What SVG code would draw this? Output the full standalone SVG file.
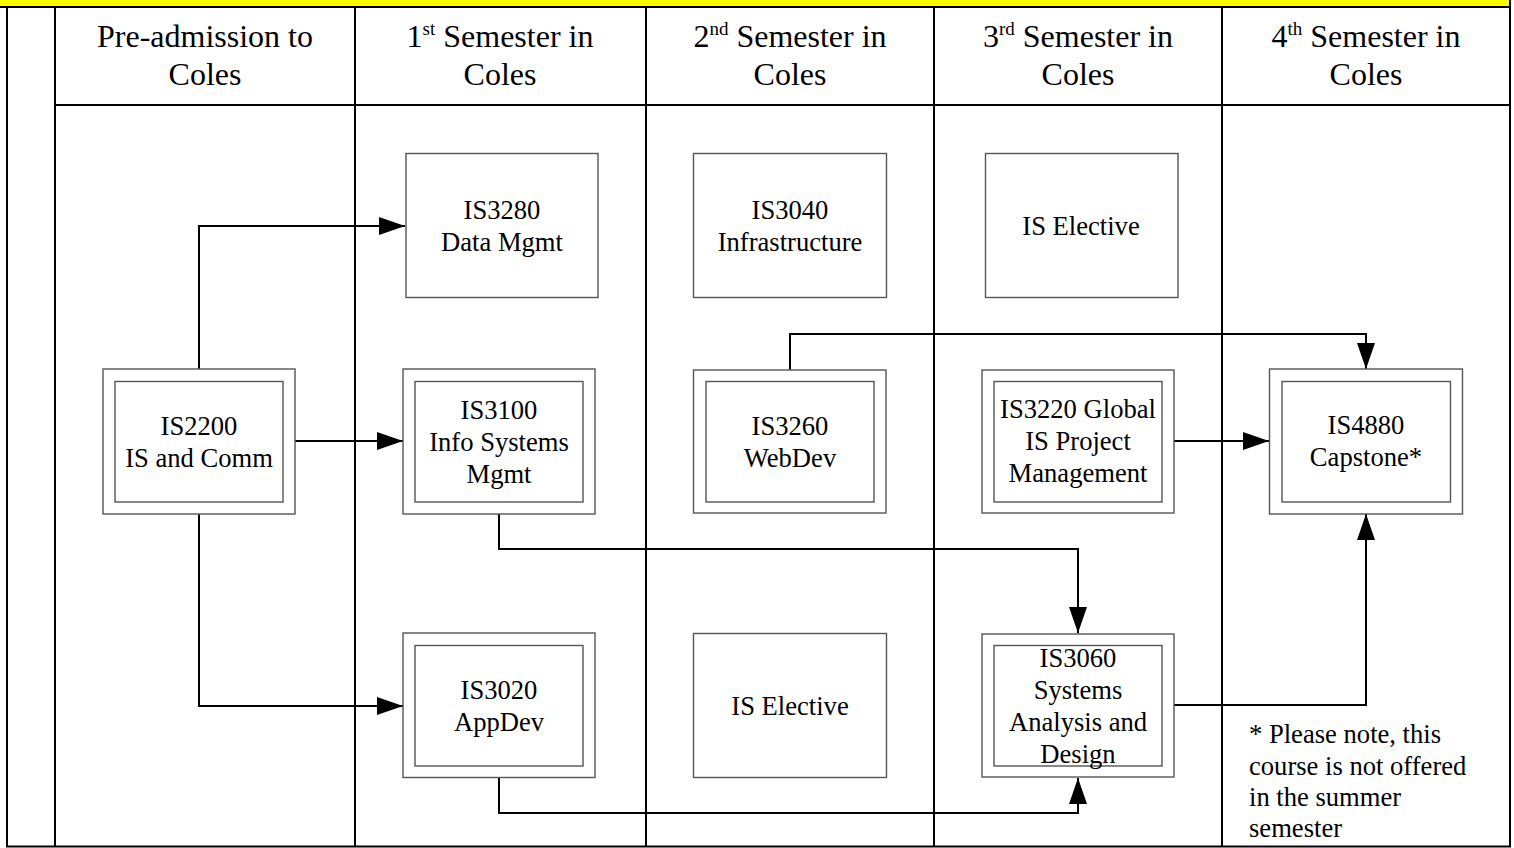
<svg xmlns="http://www.w3.org/2000/svg" width="1514" height="848" viewBox="0 0 1514 848">
<defs>
<marker id="ah" markerWidth="26" markerHeight="18" refX="26" refY="9" orient="auto" markerUnits="userSpaceOnUse">
<path d="M0,0 L26,9 L0,18 Z" fill="#000"/>
</marker>
</defs>
<style>
.frame{stroke:#000;stroke-width:2;fill:none}
.box{fill:#fff;stroke:#555;stroke-width:1.4}
.hdr{font-family:"Liberation Serif","Times New Roman",serif;font-size:32px;fill:#000;text-anchor:middle}
.t{font-family:"Liberation Serif","Times New Roman",serif;font-size:26.6px;fill:#000;text-anchor:middle}
.note{font-family:"Liberation Serif","Times New Roman",serif;font-size:26.6px;fill:#000}
.con{stroke:#000;stroke-width:2;fill:none}
</style>
<rect x="0" y="0" width="1514" height="848" fill="#fff"/>
<g id="frame">
<rect x="0" y="-2" width="1511" height="9" fill="#ffff00"/>
<line class="frame" x1="0" y1="7" x2="1511" y2="7"/>
<line class="frame" x1="1510" y1="0" x2="1510" y2="847"/>
<line class="frame" x1="7" y1="7" x2="7" y2="847"/>
<line class="frame" x1="55" y1="7" x2="55" y2="847"/>
<line class="frame" x1="355" y1="7" x2="355" y2="847"/>
<line class="frame" x1="646" y1="7" x2="646" y2="847"/>
<line class="frame" x1="934" y1="7" x2="934" y2="847"/>
<line class="frame" x1="1222" y1="7" x2="1222" y2="847"/>
<line class="frame" x1="55" y1="105" x2="1511" y2="105"/>
<line class="frame" x1="6" y1="846.5" x2="1511" y2="846.5"/>
</g>
<g id="headers">
<text class="hdr" x="205" y="47">Pre-admission to</text>
<text class="hdr" x="205" y="85">Coles</text>
<text class="hdr" x="500" y="47">1<tspan font-size="19" dy="-12">st</tspan><tspan dy="12"> Semester in</tspan></text>
<text class="hdr" x="500" y="85">Coles</text>
<text class="hdr" x="790" y="47">2<tspan font-size="19" dy="-12">nd</tspan><tspan dy="12"> Semester in</tspan></text>
<text class="hdr" x="790" y="85">Coles</text>
<text class="hdr" x="1078" y="47">3<tspan font-size="19" dy="-12">rd</tspan><tspan dy="12"> Semester in</tspan></text>
<text class="hdr" x="1078" y="85">Coles</text>
<text class="hdr" x="1366" y="47">4<tspan font-size="19" dy="-12">th</tspan><tspan dy="12"> Semester in</tspan></text>
<text class="hdr" x="1366" y="85">Coles</text>
</g>
<g id="connectors">
<polyline class="con" points="199,369 199,226 405,226" marker-end="url(#ah)"/>
<polyline class="con" points="199,514 199,706 403,706" marker-end="url(#ah)"/>
<polyline class="con" points="295,441 403,441" marker-end="url(#ah)"/>
<polyline class="con" points="499,514 499,549 1078,549 1078,633" marker-end="url(#ah)"/>
<polyline class="con" points="499,777 499,813 1078,813 1078,778" marker-end="url(#ah)"/>
<polyline class="con" points="790,370 790,334 1366,334 1366,369" marker-end="url(#ah)"/>
<polyline class="con" points="1174,441 1269,441" marker-end="url(#ah)"/>
<polyline class="con" points="1174,705 1366,705 1366,514" marker-end="url(#ah)"/>
</g>
<g id="IS2200">
<rect class="box" x="103" y="369" width="192" height="145"/>
<rect class="box" x="115" y="381.5" width="168" height="120.5"/>
<text class="t" x="199" y="435">IS2200</text>
<text class="t" x="199" y="467">IS and Comm</text>
</g>
<g id="IS3280">
<rect class="box" x="406" y="153.5" width="192" height="144"/>
<text class="t" x="502" y="219">IS3280</text>
<text class="t" x="502" y="251">Data Mgmt</text>
</g>
<g id="IS3100">
<rect class="box" x="403" y="369" width="192" height="145"/>
<rect class="box" x="415" y="381.5" width="168" height="120.5"/>
<text class="t" x="499" y="419">IS3100</text>
<text class="t" x="499" y="451">Info Systems</text>
<text class="t" x="499" y="483">Mgmt</text>
</g>
<g id="IS3020">
<rect class="box" x="403" y="633" width="192" height="144.5"/>
<rect class="box" x="415" y="645.5" width="168" height="120.5"/>
<text class="t" x="499" y="699">IS3020</text>
<text class="t" x="499" y="731">AppDev</text>
</g>
<g id="IS3040">
<rect class="box" x="693.5" y="153.5" width="193" height="144"/>
<text class="t" x="790" y="219">IS3040</text>
<text class="t" x="790" y="251">Infrastructure</text>
</g>
<g id="IS3260">
<rect class="box" x="693.5" y="370" width="192.5" height="143"/>
<rect class="box" x="706" y="381.5" width="168" height="120.5"/>
<text class="t" x="790" y="435">IS3260</text>
<text class="t" x="790" y="467">WebDev</text>
</g>
<g id="Elective2">
<rect class="box" x="693.5" y="633.5" width="193" height="144"/>
<text class="t" x="790" y="715">IS Elective</text>
</g>
<g id="Elective3">
<rect class="box" x="985.5" y="153.5" width="192.5" height="144"/>
<text class="t" x="1081" y="235">IS Elective</text>
</g>
<g id="IS3220">
<rect class="box" x="982" y="370" width="192" height="143"/>
<rect class="box" x="994" y="381.5" width="168" height="120.5"/>
<text class="t" x="1078" y="418">IS3220 Global</text>
<text class="t" x="1078" y="450">IS Project</text>
<text class="t" x="1078" y="482">Management</text>
</g>
<g id="IS3060">
<rect class="box" x="982" y="634" width="192" height="143"/>
<rect class="box" x="994" y="645.5" width="168" height="120.5"/>
<text class="t" x="1078" y="667">IS3060</text>
<text class="t" x="1078" y="699">Systems</text>
<text class="t" x="1078" y="731">Analysis and</text>
<text class="t" x="1078" y="763">Design</text>
</g>
<g id="IS4880">
<rect class="box" x="1269.5" y="369" width="193" height="145"/>
<rect class="box" x="1282" y="381.5" width="168.5" height="120.5"/>
<text class="t" x="1366" y="434">IS4880</text>
<text class="t" x="1366" y="466">Capstone*</text>
</g>
<g id="note">
<text class="note" x="1249" y="743">* Please note, this</text>
<text class="note" x="1249" y="775">course is not offered</text>
<text class="note" x="1249" y="806">in the summer</text>
<text class="note" x="1249" y="837">semester</text>
</g>
</svg>
